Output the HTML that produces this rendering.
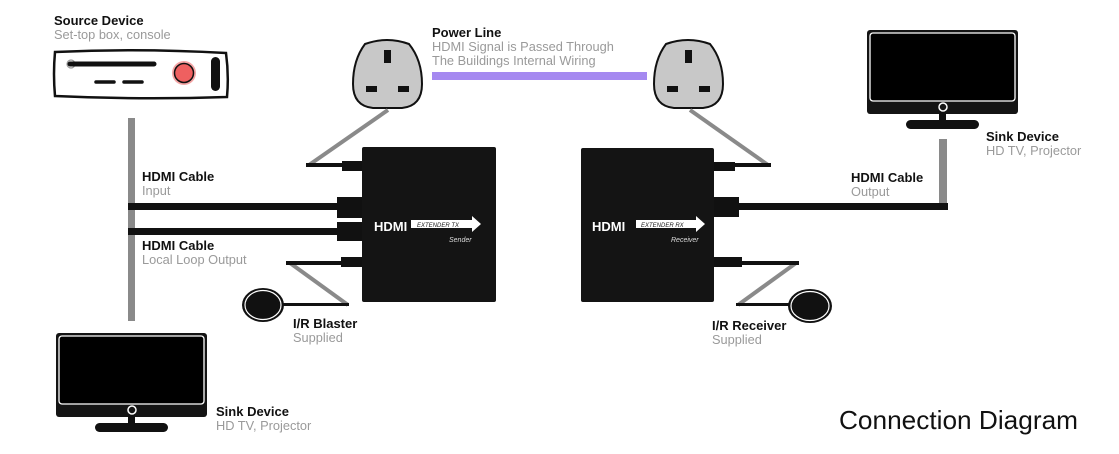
<!DOCTYPE html>
<html><head><meta charset="utf-8"><style>
html,body{margin:0;padding:0;background:#fff;}
svg{display:block;}
text{font-family:"Liberation Sans",sans-serif;}
.b{font-weight:bold;font-size:13px;fill:#111;}
.g{font-size:12.8px;fill:#9a9a9a;}
</style></head><body>
<svg width="1119" height="454" viewBox="0 0 1119 454" xmlns="http://www.w3.org/2000/svg">
<!-- Source device -->
<path d="M55,52 Q140,48 226,53 Q229,75 227,97 Q140,100 55,96 Q53,74 55,52 Z" fill="#fff" stroke="#111" stroke-width="2.5"/>
<circle cx="71" cy="64" r="4" fill="none" stroke="#999" stroke-width="1.2"/>
<line x1="70" y1="64" x2="154" y2="64" stroke="#111" stroke-width="5" stroke-linecap="round"/>
<line x1="96" y1="82" x2="114" y2="82" stroke="#111" stroke-width="3.5" stroke-linecap="round"/>
<line x1="124" y1="82" x2="142" y2="82" stroke="#111" stroke-width="3.5" stroke-linecap="round"/>
<circle cx="184" cy="73" r="12" fill="#f5a5a5"/>
<circle cx="184" cy="73" r="9.5" fill="#ef6060" stroke="#111" stroke-width="1.5"/>
<rect x="211" y="57" width="9" height="34" rx="4.5" fill="#111"/>
<text x="54" y="25" class="b">Source Device</text>
<text x="54" y="39" class="g">Set-top box, console</text>

<!-- Plugs -->
<g id="plug">
<path d="M365,44 Q387,36 409,44 Q422,60 422,84 Q422,106 402,108 L373,108 Q353,106 353,84 Q353,60 365,44 Z" fill="#c8c8c8" stroke="#111" stroke-width="2"/>
<rect x="384" y="50" width="7" height="13" fill="#111"/>
<rect x="366" y="86" width="11" height="6" fill="#111"/>
<rect x="398" y="86" width="11" height="6" fill="#111"/>
</g>
<use href="#plug" transform="translate(301,0)"/>

<!-- power line -->
<rect x="432" y="72" width="215" height="8" fill="#a589f0"/>
<text x="432" y="37" class="b">Power Line</text>
<text x="432" y="51" class="g">HDMI Signal is Passed Through</text>
<text x="432" y="65" class="g">The Buildings Internal Wiring</text>

<!-- Left grey vertical -->
<rect x="128" y="118" width="7" height="203" fill="#8a8a8a"/>
<!-- TX box -->
<rect x="362" y="147" width="134" height="155" rx="2" fill="#141414"/>
<!-- TX power -->
<line x1="309" y1="165" x2="388" y2="110" stroke="#8a8a8a" stroke-width="4"/>
<rect x="306" y="163" width="40" height="4" fill="#111"/>
<rect x="342" y="161" width="20" height="10" fill="#111"/>
<!-- HDMI cables -->
<rect x="128" y="203" width="210" height="7" fill="#111"/>
<rect x="337" y="197" width="25" height="21" fill="#111"/>
<rect x="128" y="228" width="210" height="7" fill="#111"/>
<rect x="337" y="222" width="25" height="19" fill="#111"/>
<!-- IR blaster -->
<line x1="290" y1="263" x2="348" y2="305" stroke="#8a8a8a" stroke-width="4"/>
<rect x="286" y="261" width="60" height="4" fill="#111"/>
<rect x="341" y="257" width="21" height="10" fill="#111"/>
<rect x="282" y="303" width="67" height="3" fill="#111"/>
<ellipse cx="263" cy="305" rx="21" ry="17" fill="#111"/>
<ellipse cx="263" cy="305" rx="18" ry="14.5" fill="none" stroke="#fff" stroke-width="1.2"/>
<!-- TX text -->
<text x="374" y="231" font-weight="bold" font-size="13" fill="#fff">HDMI</text>
<path d="M411,220 L472,220 L472,216 L481,224 L472,232 L472,228 L411,228 Z" fill="#fff"/>
<text x="417" y="227" font-size="6" font-style="italic" fill="#222">EXTENDER TX</text>
<text x="449" y="242" font-size="7" font-style="italic" fill="#ddd">Sender</text>
<text x="142" y="181" class="b">HDMI Cable</text>
<text x="142" y="195" class="g">Input</text>
<text x="142" y="250" class="b">HDMI Cable</text>
<text x="142" y="264" class="g">Local Loop Output</text>
<text x="293" y="328" class="b">I/R Blaster</text>
<text x="293" y="342" class="g">Supplied</text>

<!-- TV -->
<g id="tv">
<rect x="56" y="333" width="151" height="84" rx="3" fill="#141414"/>
<rect x="59" y="336" width="145" height="68" rx="3" fill="#000" stroke="#fff" stroke-width="1.3"/>
<rect x="128" y="412" width="7" height="13" fill="#111"/>
<rect x="95" y="423" width="73" height="9" rx="4.5" fill="#111"/>
<circle cx="132" cy="410" r="4" fill="#141414" stroke="#fff" stroke-width="1.5"/>
</g>
<text x="216" y="416" class="b">Sink Device</text>
<text x="216" y="430" class="g">HD TV, Projector</text>

<use href="#tv" transform="translate(811,-303)"/>
<text x="986" y="141" class="b">Sink Device</text>
<text x="986" y="155" class="g">HD TV, Projector</text>

<!-- RX box -->
<rect x="581" y="148" width="133" height="154" rx="2" fill="#141414"/>
<line x1="768" y1="165" x2="690" y2="110" stroke="#8a8a8a" stroke-width="4"/>
<rect x="730" y="163" width="41" height="4" fill="#111"/>
<rect x="714" y="162" width="21" height="9" fill="#111"/>
<rect x="939" y="139" width="8" height="66" fill="#8a8a8a"/>
<rect x="738" y="203" width="210" height="7" fill="#111"/>
<rect x="714" y="197" width="25" height="20" fill="#111"/>
<line x1="796" y1="263" x2="738" y2="305" stroke="#8a8a8a" stroke-width="4"/>
<rect x="740" y="261" width="59" height="4" fill="#111"/>
<rect x="714" y="257" width="28" height="10" fill="#111"/>
<rect x="736" y="303" width="56" height="3" fill="#111"/>
<ellipse cx="810" cy="306" rx="22" ry="17" fill="#111"/>
<ellipse cx="810" cy="306" rx="19" ry="14.5" fill="none" stroke="#fff" stroke-width="1.2"/>
<text x="592" y="231" font-weight="bold" font-size="13" fill="#fff">HDMI</text>
<path d="M636,220 L696,220 L696,216 L705,224 L696,232 L696,228 L636,228 Z" fill="#fff"/>
<text x="641" y="227" font-size="6" font-style="italic" fill="#222">EXTENDER RX</text>
<text x="671" y="242" font-size="7" font-style="italic" fill="#ddd">Receiver</text>
<text x="851" y="182" class="b">HDMI Cable</text>
<text x="851" y="196" class="g">Output</text>
<text x="712" y="330" class="b">I/R Receiver</text>
<text x="712" y="344" class="g">Supplied</text>

<text x="839" y="429" font-size="26" fill="#111" textLength="239" lengthAdjust="spacingAndGlyphs">Connection Diagram</text>
</svg>
</body></html>
